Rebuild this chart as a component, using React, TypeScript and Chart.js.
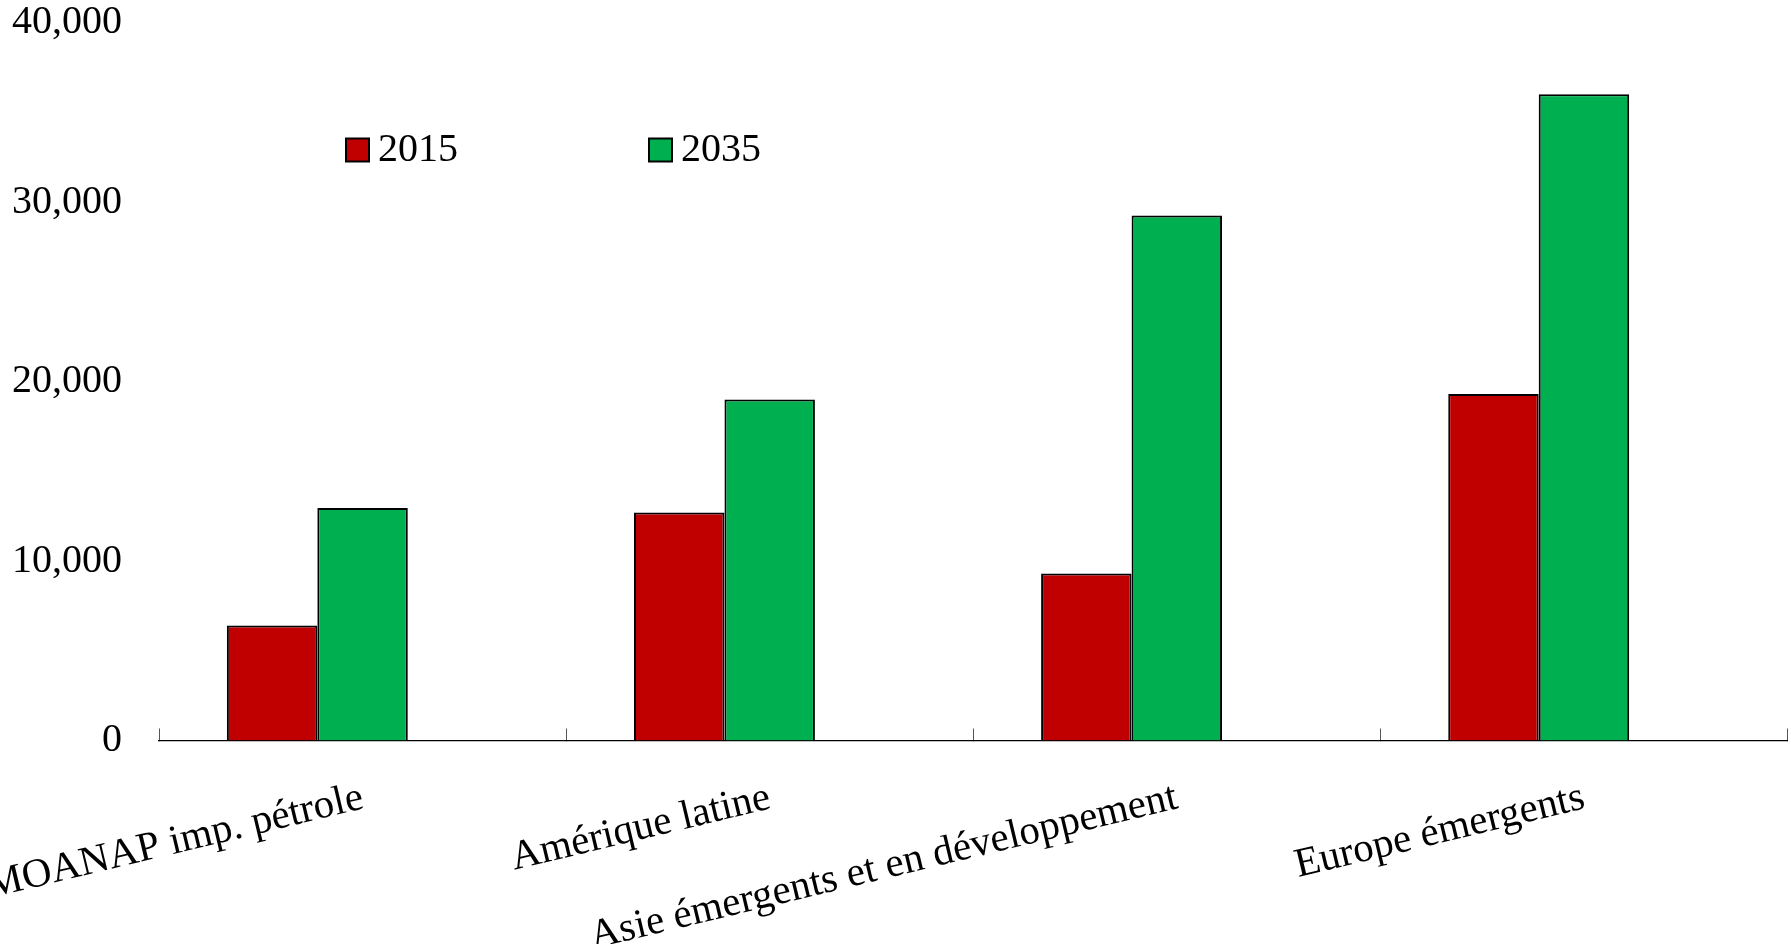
import React, { useEffect, useRef } from 'react';
import { Chart, registerables } from 'chart.js';

Chart.register(...registerables);

// ---- Data ----
const categories = [
  'MOANAP imp. pétrole',
  'Amérique latine',
  'Asie émergents et en développement',
  'Europe émergents',
];
const seriesLabels = ['2015', '2035'];
const values2015 = [6400, 12700, 9300, 19300];
const values2035 = [12950, 19000, 29250, 36000];
// Excel chart carries a third, empty series that reserves a bar slot
const emptySeries: (number | null)[] = [null, null, null, null];
const yTickValues = [0, 10000, 20000, 30000, 40000];

// ---- Styles ----
const FONT = "'Liberation Serif', 'Times New Roman', serif";
const RED = '#C00000';
const GREEN = '#00B050';
const W = 1791;
const H = 944;

const legendPlugin = {
  id: 'customLegend',
  afterDraw(chart: any) {
    const ctx = chart.ctx;
    const positions = [346, 649];
    const boxSize = 23;
    const midY = 150;
    ctx.save();
    ctx.font = `40px ${FONT}`;
    ctx.textBaseline = 'middle';
    ctx.textAlign = 'left';
    positions.forEach((x, i) => {
      const ds = chart.data.datasets[i];
      ctx.fillStyle = ds.backgroundColor;
      ctx.fillRect(x, midY - boxSize / 2, boxSize, boxSize);
      ctx.lineWidth = 2;
      ctx.strokeStyle = '#000';
      ctx.strokeRect(x, midY - boxSize / 2, boxSize, boxSize);
      ctx.fillStyle = '#000';
      ctx.fillText(ds.label, x + boxSize + 9, midY);
    });
    ctx.restore();
  },
};

export default function App() {
  const ref = useRef<HTMLCanvasElement | null>(null);

  useEffect(() => {
    if (!ref.current) return;
    const chart = new Chart(ref.current, {
      type: 'bar',
      data: {
        labels: categories,
        datasets: [
          {
            label: seriesLabels[0],
            data: values2015,
            backgroundColor: RED,
            borderColor: '#000',
            borderWidth: 2,
          },
          {
            label: seriesLabels[1],
            data: values2035,
            backgroundColor: GREEN,
            borderColor: '#000',
            borderWidth: 2,
          },
          {
            label: '',
            data: emptySeries,
            backgroundColor: 'rgba(0,0,0,0)',
            borderWidth: 0,
          },
        ],
      },
      options: {
        responsive: false,
        animation: false,
        events: [],
        datasets: {
          bar: {
            categoryPercentage: 2 / 3,
            barPercentage: 1,
          },
        },
        layout: { padding: { top: 0, left: 0, right: 3.5, bottom: 0 } },
        plugins: {
          legend: { display: false },
          tooltip: { enabled: false },
          title: { display: false },
        },
        scales: {
          x: {
            offset: true,
            border: { display: true, color: '#000', width: 1.3 },
            grid: {
              display: true,
              drawOnChartArea: false,
              drawTicks: true,
              tickLength: -12,
              offset: true,
              color: '#555',
              lineWidth: 1,
            },
            ticks: {
              autoSkip: false,
              minRotation: 13.5,
              maxRotation: 13.5,
              padding: 45,
              color: '#000',
              font: { family: FONT, size: 41 },
            },
            afterFit: (s: any) => {
              s.height = 203.5;
              s.paddingLeft = 0;
              s.paddingRight = 0;
            },
          },
          y: {
            min: 0,
            max: 40000,
            border: { display: false },
            grid: { display: false, drawTicks: false },
            afterBuildTicks: (s: any) => {
              s.ticks = yTickValues.map((v) => ({ value: v }));
            },
            ticks: {
              padding: 37,
              color: '#000',
              font: { family: FONT, size: 40 },
              callback: (v: any) => Number(v).toLocaleString('en-US'),
            },
            afterFit: (s: any) => {
              s.width = 159;
              s.paddingTop = 22.5;
              s.paddingBottom = 0;
            },
          },
        },
      },
      plugins: [legendPlugin],
    });
    return () => chart.destroy();
  }, []);

  return (
    <div style={{ position: 'absolute', left: 0, top: 0, width: W, height: H, background: '#fff' }}>
      <canvas ref={ref} width={W} height={H} style={{ display: 'block', width: W, height: H }} />
    </div>
  );
}
